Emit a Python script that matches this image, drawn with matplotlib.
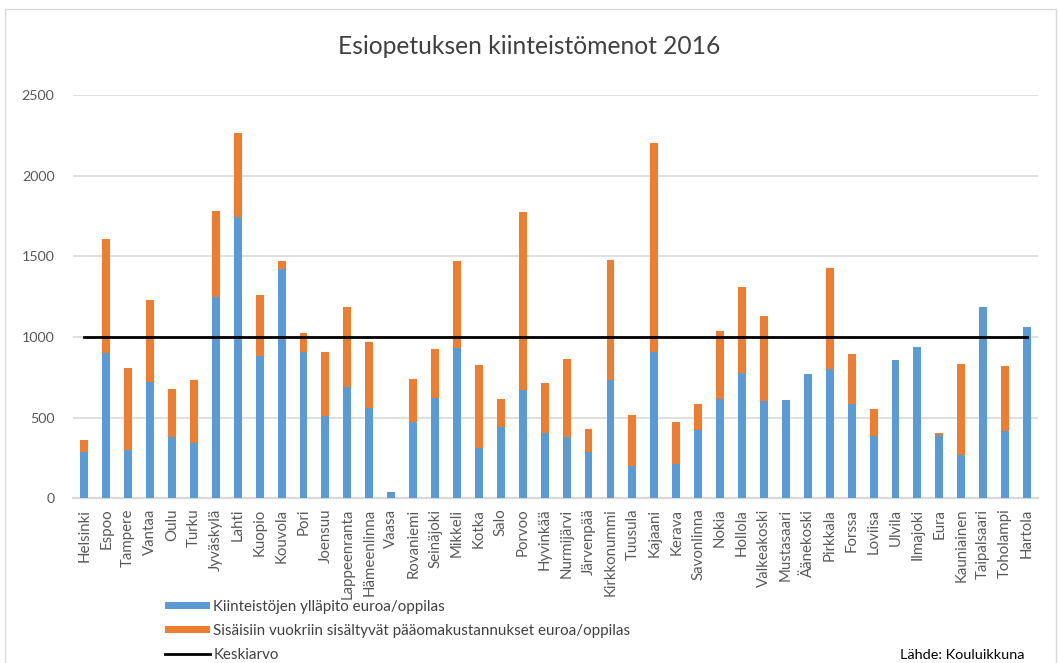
import matplotlib
matplotlib.use('Agg')
import matplotlib.pyplot as plt
import matplotlib.patches as mplpatches
import numpy as np

plt.rcParams['font.family'] = ['Lato', 'DejaVu Sans']

kunnat = ['Helsinki', 'Espoo', 'Tampere', 'Vantaa', 'Oulu', 'Turku', 'Jyväskylä',
          'Lahti', 'Kuopio', 'Kouvola', 'Pori', 'Joensuu', 'Lappeenranta',
          'Hämeenlinna', 'Vaasa', 'Rovaniemi', 'Seinäjoki', 'Mikkeli', 'Kotka',
          'Salo', 'Porvoo', 'Hyvinkää', 'Nurmijärvi', 'Järvenpää', 'Kirkkonummi',
          'Tuusula', 'Kajaani', 'Kerava', 'Savonlinna', 'Nokia', 'Hollola',
          'Valkeakoski', 'Mustasaari', 'Äänekoski', 'Pirkkala', 'Forssa',
          'Loviisa', 'Ulvila', 'Ilmajoki', 'Eura', 'Kauniainen', 'Taipalsaari',
          'Toholampi', 'Hartola']

# kiinteistöjen ylläpito euroa/oppilas
yllapito = [290, 900, 298, 718, 383, 342, 1245, 1746, 879, 1420,
            908, 513, 688, 560, 40, 476, 620, 930, 314, 440,
            672, 407, 378, 290, 733, 202, 904, 210, 425, 616,
            774, 605, 608, 770, 800, 585, 384, 858, 936, 393,
            268, 1185, 418, 1062]

# kokonaissumma (ylläpito + pääomakustannukset)
yhteensa = [363, 1606, 808, 1227, 680, 733, 1778, 2264, 1260, 1470,
            1024, 906, 1187, 970, 40, 740, 928, 1470, 826, 616,
            1776, 714, 864, 427, 1477, 517, 2202, 473, 582, 1040,
            1308, 1128, 608, 770, 1427, 892, 554, 858, 936, 402,
            830, 1185, 822, 1062]

paaoma = [t - b for t, b in zip(yhteensa, yllapito)]

keskiarvo = 1000

yTicks = [0, 500, 1000, 1500, 2000, 2500]

blue = '#5B9BD5'
orange = '#ED7D31'
grey_text = '#595959'
grid_col = '#D9D9D9'

figureWidth = 10.59
figureHeight = 6.63
fig = plt.figure(figsize=(figureWidth, figureHeight), dpi=100)

# chart border like an Excel chart object
fig.patches.append(mplpatches.Rectangle((5 / 1059, -0.05), 1051 / 1059, 1 - 9 / 663 + 0.05,
                                        transform=fig.transFigure, fill=False,
                                        edgecolor='#D9D9D9', linewidth=1.0))

#               left, bottom, width, height
panel1 = plt.axes([73.3 / 1059, 1 - 498.3 / 663, (1038 - 73.3) / 1059, (498.3 - 95) / 663])

x = np.arange(len(kunnat))
b1 = panel1.bar(x, yllapito, width=0.36, color=blue, zorder=3)
b2 = panel1.bar(x, paaoma, width=0.36, bottom=yllapito, color=orange, zorder=3)
l1, = panel1.plot(x, [keskiarvo] * len(x), color='black', linewidth=2.0, zorder=4)

panel1.set_xlim(-0.5, len(kunnat) - 0.5)
panel1.set_ylim(0, 2500)
panel1.set_yticks(yTicks)
panel1.set_xticks(x)
panel1.set_xticklabels(kunnat, rotation=90, fontsize=10.8, color=grey_text)
panel1.set_yticklabels([str(v) for v in yTicks], fontsize=10.3, color=grey_text)
panel1.yaxis.grid(True, color=grid_col, linewidth=1.2, zorder=0)
panel1.set_axisbelow(True)

for s in ['top', 'right', 'left']:
    panel1.spines[s].set_visible(False)
panel1.spines['bottom'].set_color(grid_col)
panel1.spines['bottom'].set_linewidth(1.6)

panel1.tick_params(bottom=False, left=False, top=False, right=False,
                   labelbottom=True, labelleft=True, pad=4)
panel1.tick_params(axis='y', pad=10)

fig.text(0.5, 1 - 47 / 663, 'Esiopetuksen kiinteistömenot 2016', ha='center', va='center',
         fontsize=17.7, color='#404040')

fig.legend([b1, b2, l1],
           ['Kiinteistöjen ylläpito euroa/oppilas',
            'Sisäisiin vuokriin sisältyvät pääomakustannukset euroa/oppilas',
            'Keskiarvo'],
           loc='upper left', bbox_to_anchor=(165 / 1059, 1 - 600 / 663), frameon=False,
           fontsize=10.9, handlelength=2.95, handleheight=0.4, handletextpad=0.25,
           labelspacing=0.65, borderpad=0, borderaxespad=0, labelcolor='#404040')

fig.text(1025 / 1059, 1 - 655 / 663, 'Lähde: Kouluikkuna', ha='right', va='center',
         fontsize=10.4, color='black')

plt.savefig('out.png', dpi=100)
